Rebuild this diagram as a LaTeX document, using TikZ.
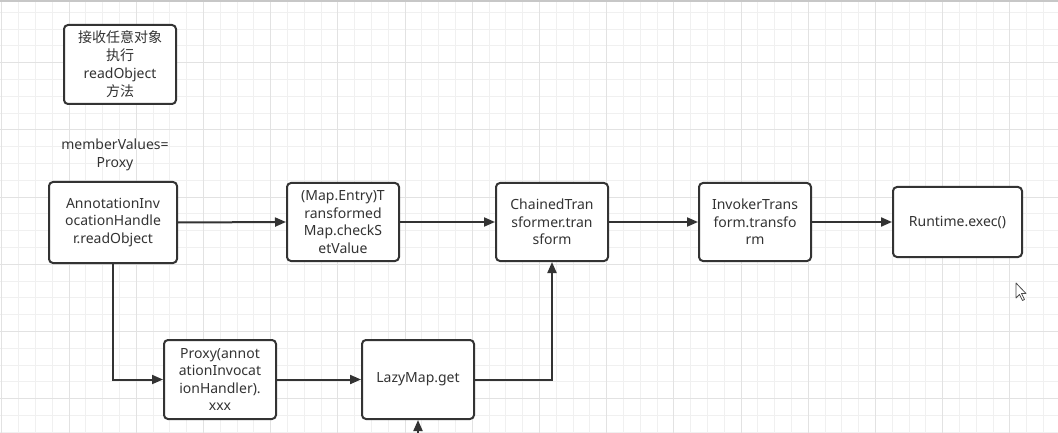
\documentclass[tikz,border=0pt]{standalone}
\usepackage{fontspec}
\setmainfont{Noto Sans}
\newfontfamily\cjk{Noto Sans CJK SC}
\usetikzlibrary{arrows.meta}
\definecolor{ink}{HTML}{333333}
\definecolor{gridminor}{HTML}{F0F0F0}
\definecolor{gridmajor}{HTML}{E2E2E2}
\tikzset{
  box/.style={draw=ink, line width=2pt, rounded corners=4pt, fill=white,
    align=center, text=ink, font=\fontsize{14}{17.5}\selectfont, inner sep=0pt},
  flow/.style={draw=ink, line width=2pt, -{Triangle[length=11pt,width=9pt]}},
  lbl/.style={align=center, text=ink, font=\fontsize{14}{17.5}\selectfont, inner sep=0pt},
}
\begin{document}
\begin{tikzpicture}[x=1pt,y=-1pt]
\useasboundingbox (0,0) rectangle (1058,433);
\fill[white] (0,0) rectangle (1058,433);
\begin{scope}
\clip (0,0) rectangle (1058,433);
\foreach \k in {0,...,63} {\draw[gridminor, line width=1pt] ({1.8+16.8*\k},0) -- ({1.8+16.8*\k},433);}
\foreach \k in {0,...,26} {\draw[gridminor, line width=1pt] (0,{12.3+16.8*\k}) -- (1058,{12.3+16.8*\k});}
\foreach \k in {0,...,15} {\draw[gridmajor, line width=1pt] ({1.8+67.2*\k},0) -- ({1.8+67.2*\k},433);}
\foreach \k in {1,...,6} {\draw[gridmajor, line width=1pt] (0,{-4.5+67.2*\k}) -- (1058,{-4.5+67.2*\k});}
\draw[black!22, line width=2pt] (0,1) -- (1058,1);
\end{scope}

\node[box, minimum width=112pt, minimum height=79pt, font=\fontsize{14}{18}\selectfont] (top) at (120,64.5)
  {{\cjk 接收任意对象}\\{\cjk 执行}\\readObject\\{\cjk 方法}};
\node[lbl] (mv) at (115,155) {memberValues=\\Proxy};
\node[box, minimum width=128pt, minimum height=81pt] (aih) at (113,222.5)
  {AnnotationInv\\ocationHandle\\r.readObject};
\node[box, minimum width=112pt, minimum height=78pt] (tm) at (343,222)
  {(Map.Entry)T\\ransformed\\Map.checkS\\etValue};
\node[box, minimum width=112pt, minimum height=78pt] (ct) at (552,222)
  {ChainedTran\\sformer.tran\\sform};
\node[box, minimum width=112pt, minimum height=78pt] (it) at (755,222)
  {InvokerTrans\\form.transfo\\rm};
\node[box, minimum width=129pt, minimum height=70pt] (rt) at (957.5,222)
  {Runtime.exec()};
\node[box, minimum width=112pt, minimum height=79pt] (px) at (220,379.5)
  {Proxy(annot\\ationInvocat\\ionHandler).\\xxx};
\node[box, minimum width=112pt, minimum height=79pt] (lm) at (418,379.5)
  {LazyMap.get};
\coordinate (below) at (418,440);

\draw[flow] (aih.east) -- (tm.west);
\draw[flow] (tm.east) -- (ct.west);
\draw[flow] (ct.east) -- (it.west);
\draw[flow] (it.east) -- (rt.west);
\draw[flow] (aih.south) |- (px.west);
\draw[flow] (px.east) -- (lm.west);
\draw[flow] (lm.east) -| (ct.south);
\draw[flow] (below) -- (lm.south);

% mouse cursor
\draw[black!70, fill=white, line width=0.8pt, line join=round]
  (1016,283) -- (1016,298) -- (1019.5,294.5) -- (1022.5,300.5) -- (1024.5,299.5)
  -- (1021.5,293.5) -- (1026,293.5) -- cycle;
\end{tikzpicture}
\end{document}
